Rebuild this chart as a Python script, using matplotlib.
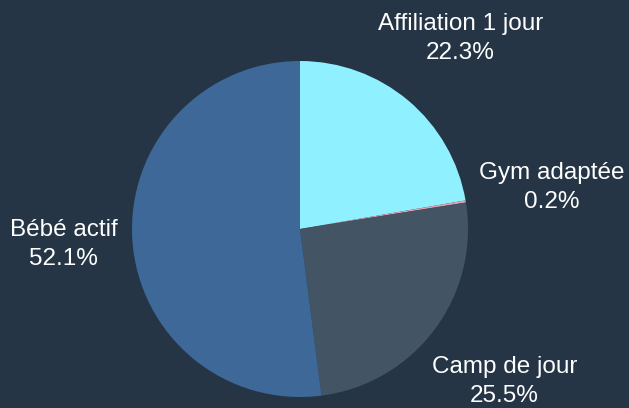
import numpy as np
import matplotlib.pyplot as plt

labels = ['Affiliation 1 jour', 'Gym adaptée', 'Camp de jour', 'Bébé actif']
values = [22.3, 0.2, 25.5, 52.1]
colors = ['#8ff0ff', '#e8a0b4', '#435565', '#3d6898']
label_dist = [1.48, 1.52, 1.52, 1.41]

bg = '#253545'
fig = plt.figure(figsize=(6.29, 4.08), dpi=100)
fig.patch.set_facecolor(bg)
ax = fig.add_axes([0, 0, 1, 1])
ax.set_facecolor(bg)

wedges, _ = ax.pie(values, colors=colors, startangle=90, counterclock=False,
                   radius=1.0, wedgeprops=dict(linewidth=0))

for w, lab, v, d in zip(wedges, labels, values, label_dist):
    ang = np.deg2rad((w.theta1 + w.theta2) / 2)
    x, y = d * np.cos(ang), d * np.sin(ang)
    ax.text(x, y, f'{lab}\n{v:.1f}%', ha='center', va='center',
            color='white', fontsize=17.5, family='Liberation Sans',
            linespacing=1.4)

ax.set_xlim(-300 / 168, 329 / 168)
ax.set_ylim(-179 / 168, 229 / 168)
ax.set_aspect('equal')
ax.axis('off')

fig.savefig('out.png', dpi=100, facecolor=bg)
